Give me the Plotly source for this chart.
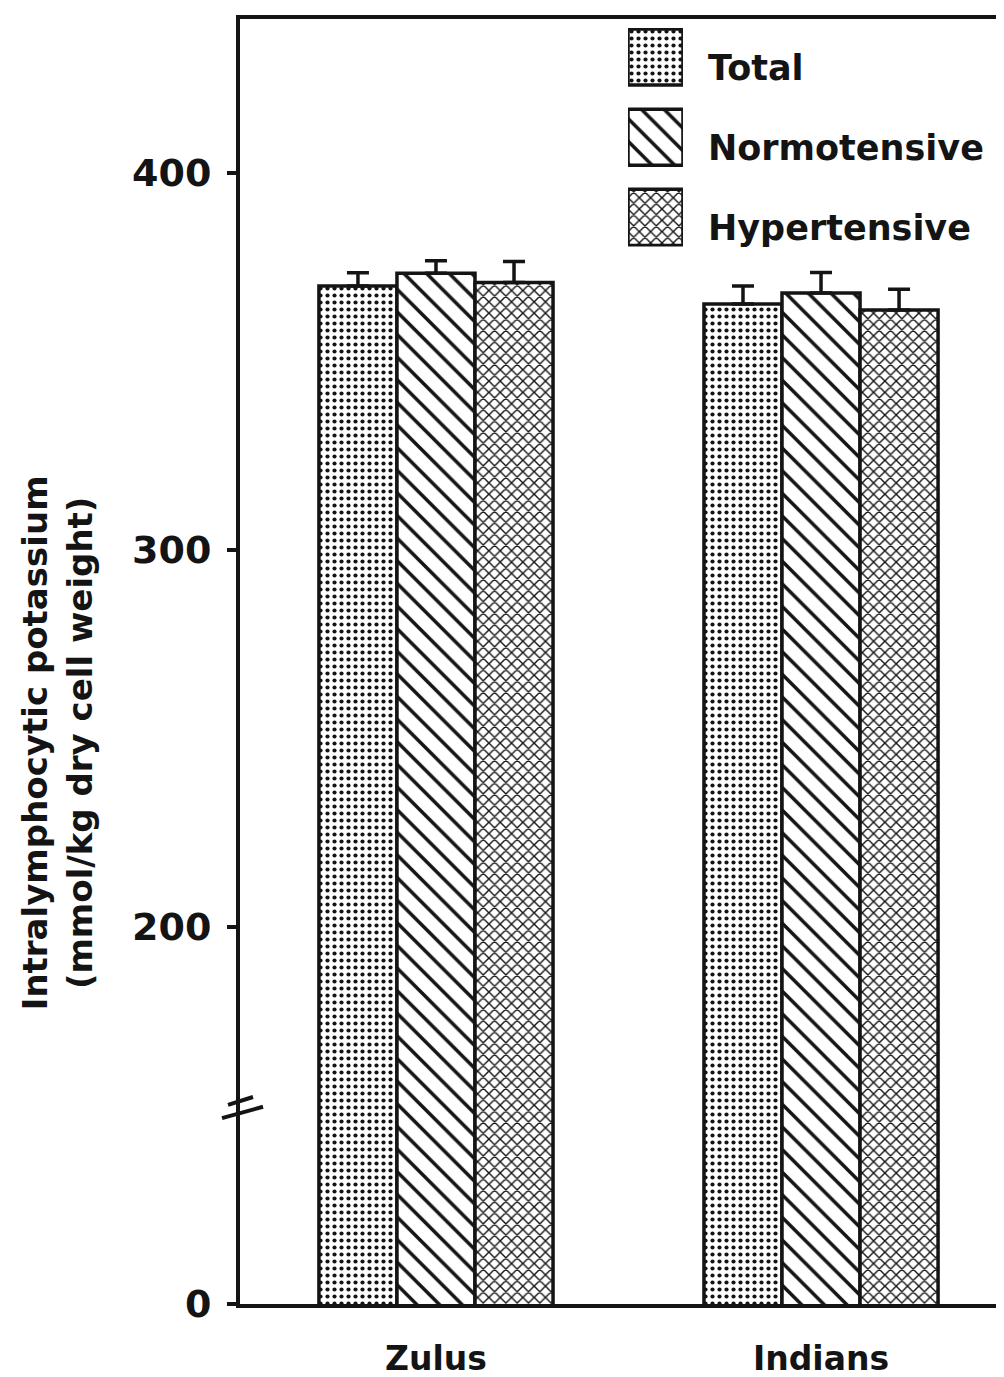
import plotly.graph_objects as go

# ---- data ----
categories = ["Zulus", "Indians"]
series_names = ["Total", "Normotensive", "Hypertensive"]
total_vals = [370.0, 365.2]
normo_vals = [373.4, 368.1]
hyper_vals = [370.9, 363.6]
total_err = [3.5, 4.8]
normo_err = [3.3, 5.5]
hyper_err = [5.6, 5.5]
tick_vals = [100, 200, 300, 400]
tick_text = ["0", "200", "300", "400"]

FONT = "DejaVu Sans"
INK = "#141414"

patterns = [
    dict(shape=".", fgcolor=INK, bgcolor="white", fgopacity=1, size=7, solidity=0.28),
    dict(shape="\\", fgcolor=INK, bgcolor="white", fgopacity=1, size=16, solidity=0.22),
    dict(shape="x", fgcolor=INK, bgcolor="white", fgopacity=1, size=8, solidity=0.32),
]
values = [total_vals, normo_vals, hyper_vals]
errors = [total_err, normo_err, hyper_err]

fig = go.Figure()
xpos = list(range(len(categories)))
for name, vals, errs, pat in zip(series_names, values, errors, patterns):
    fig.add_trace(go.Bar(
        x=xpos, y=vals, name=name,
        marker=dict(color="white", line=dict(color=INK, width=3.5), pattern=pat),
        error_y=dict(type="data", symmetric=False, array=errs,
                     arrayminus=[0] * len(errs), color=INK, thickness=3.5, width=11),
        showlegend=False,
    ))

# ---- legend drawn as bars on an inset axis ----
step, box = 80, 56
for i, (name, pat) in enumerate(zip(series_names, patterns)):
    fig.add_trace(go.Bar(
        x=[0.5], y=[box], base=[i * step], width=[1], offset=[-0.5],
        marker=dict(color="white", line=dict(color=INK, width=3.5), pattern=pat),
        xaxis="x2", yaxis="y2", showlegend=False, hoverinfo="skip",
    ))
    fig.add_annotation(
        x=0.6036, xref="paper", y=i * step + box / 2 + 11, yref="y2",
        text=name, showarrow=False, xanchor="left", yanchor="middle",
        font=dict(family=FONT, size=35, color=INK, weight="bold"),
    )

fig.update_layout(
    width=1004, height=1377,
    margin=dict(l=232, r=0, t=11, b=81),
    paper_bgcolor="white", plot_bgcolor="white",
    barmode="group", bargap=0.392, bargroupgap=0,
    xaxis=dict(range=[-0.509, 1.496], tickvals=xpos, ticktext=categories,
               showline=True, linecolor=INK, linewidth=4, mirror=True,
               showgrid=False, zeroline=False, ticks="", ticklabelstandoff=22,
               tickfont=dict(family=FONT, size=33, color=INK, weight="bold")),
    yaxis=dict(range=[100, 440.8], tickvals=tick_vals, ticktext=tick_text,
               showline=True, linecolor=INK, linewidth=4, mirror=False,
               showgrid=False, zeroline=False, ticks="outside", ticklen=9,
               tickwidth=3.5, tickcolor=INK, ticklabelstandoff=8,
               tickfont=dict(family=FONT, size=38, color=INK, weight="bold")),
    xaxis2=dict(domain=[0.5026, 0.5738], range=[0, 1], visible=False, anchor="y2"),
    yaxis2=dict(domain=[0.823, 0.993], range=[2 * step + box + 1, -1],
                visible=False, anchor="x2"),
)

# y-axis title
fig.add_annotation(
    x=-0.236, xref="paper", y=0.437, yref="paper",
    text="Intralymphocytic potassium<br>(mmol/kg dry cell weight)",
    textangle=-90, showarrow=False, xanchor="center", yanchor="middle",
    font=dict(family=FONT, size=34, color=INK, weight="bold"),
)

# axis break marks
for (x0, y0, x1, y1) in [(-0.0155, 152.8, 0.0168, 154.9), (-0.0233, 149.3, 0.0298, 152.3)]:
    fig.add_shape(type="line", xref="paper", yref="y", x0=x0, y0=y0, x1=x1, y1=y1,
                  line=dict(color=INK, width=4))

fig.write_html("out.html")
